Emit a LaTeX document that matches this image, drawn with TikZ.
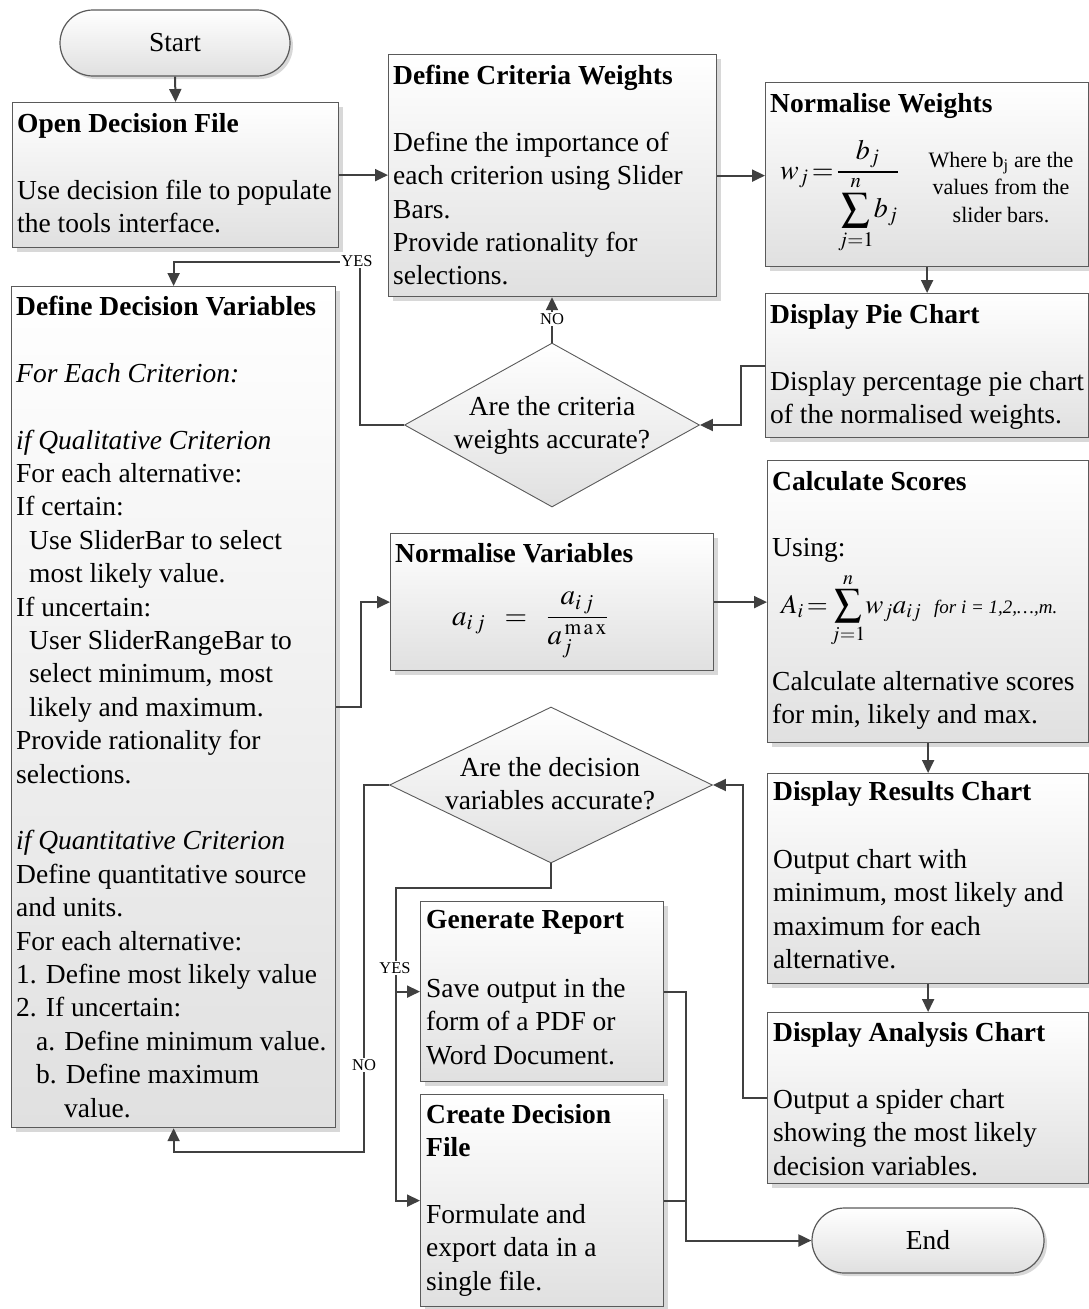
\documentclass[tikz,border=0pt]{standalone}
\usepackage{mathptmx}
\usepackage{fontspec}
\setmainfont{Liberation Serif}
\usetikzlibrary{arrows.meta,shapes.geometric,shapes.misc,shadows}
\definecolor{boxline}{RGB}{90,90,90}
\definecolor{boxbot}{RGB}{224,224,224}
\definecolor{conncol}{RGB}{64,64,64}
\newcommand\bodyfont{\fontsize{27.5}{33.4}\selectfont}
\newcommand\lblfont{\fontsize{16.5}{19}\selectfont}
\newcommand\notefont{\fontsize{22}{27.3}\selectfont}
\newcommand\mathfnt{\fontsize{28}{33}\selectfont}
\newcommand\smallit{\fontsize{19}{22}\selectfont\itshape}
\begin{document}
\begin{tikzpicture}[x=1pt,y=-1pt,
  box/.style={draw=boxline, line width=1.2pt, top color=white, bottom color=boxbot,
    drop shadow={shadow xshift=4pt, shadow yshift=-4pt, fill=black!30, opacity=0.5},
    anchor=north west, inner sep=0pt},
  term/.style={rounded rectangle, draw=boxline, line width=1.2pt, top color=white, bottom color=boxbot,
    drop shadow={shadow xshift=3pt, shadow yshift=-3pt, fill=black!30, opacity=0.5},
    inner sep=0pt, font=\bodyfont},
  dec/.style={diamond, draw=boxline, line width=0.9pt, top color=white, bottom color=boxbot, inner sep=0pt},
  tx/.style={anchor=north west, inner sep=0pt, align=left, font=\bodyfont, yshift=23.38pt},
  ttl/.style={tx, font=\bodyfont\bfseries},
  ctx/.style={anchor=north, inner sep=0pt, align=center, font=\bodyfont, yshift=23.38pt},
  conn/.style={draw=conncol, line width=2pt, -{Triangle[length=13pt,width=12pt]}},
  plain/.style={draw=conncol, line width=2pt},
  lbl/.style={font=\lblfont, fill=white, inner sep=1.5pt},
  fml/.style={anchor=base west, inner sep=0pt, font=\mathfnt}]
\useasboundingbox (0,0) rectangle (1088,1309);

% terminals
\node[term, minimum width=230pt, minimum height=66pt] (start) at (175,43) {Start};
\node[term, minimum width=232pt, minimum height=65pt] (end) at (928,1240.5) {End};

% boxes
\node[box, minimum width=326pt, minimum height=145pt] (open) at (12,102) {};
\node[box, minimum width=328pt, minimum height=242pt] (dcw) at (388,54) {};
\node[box, minimum width=323pt, minimum height=184pt] (nw) at (765,82) {};
\node[box, minimum width=323pt, minimum height=144pt] (pie) at (765,293) {};
\node[box, minimum width=324pt, minimum height=841pt] (ddv) at (11,286) {};
\node[box, minimum width=323pt, minimum height=137pt] (nv) at (390,533) {};
\node[box, minimum width=321pt, minimum height=282pt] (cs) at (767,460) {};
\node[box, minimum width=321pt, minimum height=210pt] (drc) at (767,773) {};
\node[box, minimum width=321pt, minimum height=171pt] (dac) at (767,1012) {};
\node[box, minimum width=243pt, minimum height=180pt] (gr) at (420,901) {};
\node[box, minimum width=243pt, minimum height=212pt] (cdf) at (420,1094) {};

% decisions
\node[dec, minimum width=295pt, minimum height=164pt] (d1) at (552,425) {};
\node[dec, minimum width=323pt, minimum height=156pt] (d2) at (551,785) {};

% texts
\node[ttl] (t-open) at (17,132) {\strut Open Decision File};
\node[tx] (b-open) at (17,199) {\strut Use decision file to populate\\the tools interface.};

\node[ttl] (t-dcw) at (393,84) {\strut Define Criteria Weights};
\node[tx] (b-dcw) at (393,151) {\strut Define the importance of\\each criterion using Slider\\Bars.\\Provide rationality for\\selections.};

\node[ttl] (t-nw) at (770,112) {\strut Normalise Weights};
\node[fml] (f-nw) at (780,179) {$\displaystyle w_j\mkern-2mu=\mkern-2mu\frac{b_j}{\displaystyle\sum_{j=1}^{n}\! b_j}$};
\node[anchor=north, inner sep=0pt, align=center, font=\notefont, yshift=18.9pt] (n-nw) at (1001,167) {\strut Where b\textsubscript{j} are the\\values from the\\slider bars.};

\node[ttl] (t-pie) at (770,323) {\strut Display Pie Chart};
\node[tx] (b-pie) at (770,390) {\strut Display percentage pie chart\\of the normalised weights.};

\node[ttl] (t-ddv) at (16,315) {\strut Define Decision Variables};
\node[tx] (b-ddv) at (16,382) {\strut\textit{For Each Criterion:}\\[33.4pt]
\textit{if Qualitative Criterion}\\
For each alternative:\\
If certain:\\
\hspace*{13pt}Use SliderBar to select\\
\hspace*{13pt}most likely value.\\
If uncertain:\\
\hspace*{13pt}User SliderRangeBar to\\
\hspace*{13pt}select minimum, most\\
\hspace*{13pt}likely and maximum.\\
Provide rationality for\\
selections.\\[33.4pt]
\textit{if Quantitative Criterion}\\
Define quantitative source\\
and units.\\
For each alternative:\\
1. Define most likely value\\
2. If uncertain:\\
\hspace*{20pt}a. Define minimum value.\\
\hspace*{20pt}b. Define maximum\\
\hspace*{48pt}value.};

\node[ttl] (t-nv) at (395,562) {\strut Normalise Variables};
\node[fml, font=\fontsize{29}{33}\selectfont] (f-nv) at (452,625) {$\displaystyle a_{i\,j}\;\;=\;\;\frac{a_{i\,j}}{a_{j}^{\,\mathrm{m\,a\,x}}}$};

\node[ttl] (t-cs) at (772,490) {\strut Calculate Scores};
\node[tx] (u-cs) at (772,556) {\strut Using:};
\node[fml, font=\fontsize{27}{32}\selectfont] (f-cs) at (781,613) {$\displaystyle A_i\mkern-2mu=\mkern-2mu\sum_{j=1}^{n}\! w_j a_{ij}$};
\node[anchor=base west, inner sep=0pt, font=\smallit] (f-cs2) at (934,613) {for i = 1,2,…,m.};
\node[tx] (b-cs) at (772,690) {\strut Calculate alternative scores\\for min, likely and max.};

\node[ttl] (t-drc) at (773,800) {\strut Display Results Chart};
\node[tx] (b-drc) at (773,868) {\strut Output chart with\\minimum, most likely and\\maximum for each\\alternative.};

\node[ttl] (t-dac) at (773,1041) {\strut Display Analysis Chart};
\node[tx] (b-dac) at (773,1108) {\strut Output a spider chart\\showing the most likely\\decision variables.};

\node[ttl] (t-gr) at (426,928) {\strut Generate Report};
\node[tx] (b-gr) at (426,997) {\strut Save output in the\\form of a PDF or\\Word Document.};

\node[ttl] (t-cdf) at (426,1123) {\strut Create Decision\\File};
\node[tx] (b-cdf) at (426,1223) {\strut Formulate and\\export data in a\\single file.};

\node[ctx] (q1) at (552,415) {\strut Are the criteria\\weights accurate?};
\node[ctx] (q2) at (550,776) {\strut Are the decision\\variables accurate?};

% coordinates
\coordinate (yes1) at (360,262);
\coordinate (no2) at (364,1152);
\coordinate (j1) at (396,888);
\coordinate (j2) at (686,1240.5);

% connectors
\draw[conn] (start.south) -- (open.north);
\draw[conn] (open.east) -- (open.east -| dcw.west);
\draw[conn] (dcw.east) -- (dcw.east -| nw.west);
\draw[conn] (nw.south) -- (pie.north);
\draw[conn] (pie.west) -- ++(-24,0) |- (d1.east);
\draw[conn] (d1.north) -- (dcw.south -| d1.north);
\draw[conn] (d1.west) -| (yes1) -- (yes1 -| ddv.north) -- (ddv.north);
\draw[conn] (ddv.east) -- ++(25,0) |- (nv.west);
\draw[conn] (nv.east) -- (nv.east -| cs.west);
\draw[conn] (cs.south) -- (drc.north);
\draw[conn] (drc.south) -- (dac.north);
\draw[conn] (dac.west) -- ++(-24,0) |- (d2.east);
\draw[conn] (d2.west) -| (no2) -| (ddv.south);
\draw[conn] (d2.south) |- (j1) |- (gr.west);
\draw[conn] (j1) |- (cdf.west);
\draw[conn] (gr.east) -| (j2) -- (end.west);
\draw[plain] (cdf.east) -- (cdf.east -| j2);

% labels
\node[lbl] (l-no1) at (552,319) {NO};
\node[lbl] (l-yes1) at (357,261) {YES};
\node[lbl] (l-no2) at (364,1065) {NO};
\node[lbl] (l-yes2) at (395,968) {YES};
\end{tikzpicture}
\end{document}
